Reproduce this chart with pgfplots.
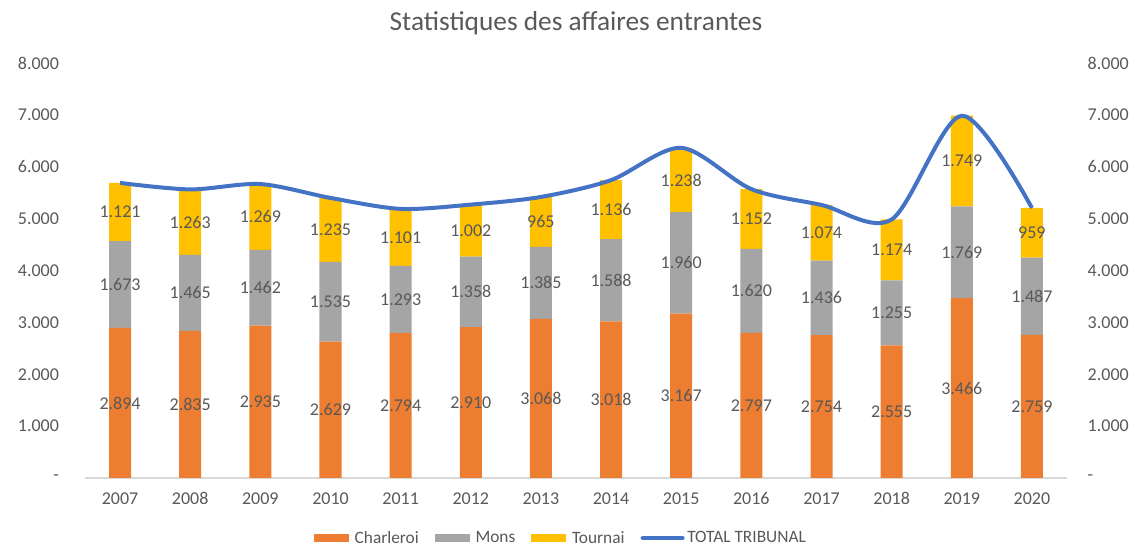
\documentclass[border=0pt]{standalone}
\usepackage{pgfplots}
\pgfplotsset{compat=1.18}
\usepackage{fontspec}
\setmainfont{Carlito}

\definecolor{charleroi}{HTML}{ED7D31}
\definecolor{mons}{HTML}{A5A5A5}
\definecolor{tournai}{HTML}{FFC000}
\definecolor{total}{HTML}{4472C4}
\definecolor{txt}{HTML}{595959}
\definecolor{axisgray}{HTML}{D9D9D9}

\pgfplotsset{
  common/.style={
    width=736.5pt, height=311.25pt, scale only axis,
    at={(0,0)}, anchor=south west,
    xmin=2006.5, xmax=2020.5,
    ymin=0, ymax=8000,
    xtick={2007,2008,2009,2010,2011,2012,2013,2014,2015,2016,2017,2018,2019,2020},
    xticklabels={2007,2008,2009,2010,2011,2012,2013,2014,2015,2016,2017,2018,2019,2020},
    ytick={0,1000,2000,3000,4000,5000,6000,7000,8000},
    yticklabels={-,1.000,2.000,3.000,4.000,5.000,6.000,7.000,8.000},
    major tick length=0pt,
    tick label style={font=\fontsize{13.5}{16}\selectfont, text=txt},
  },
}

\begin{document}
\begin{tikzpicture}
\useasboundingbox (-63.75pt,-52.5pt) rectangle (786pt,358.5pt);
\begin{axis}[common,
  ybar stacked, bar width=16.5pt,
  axis x line*=bottom, axis y line*=left,
  x axis line style={axisgray, line width=1pt},
  y axis line style={draw=none},
  yticklabel style={xshift=-16pt},
  xticklabel style={yshift=-7.5pt},
  title={Statistiques des affaires entrantes},
  title style={at={(0.5,1.077)}, anchor=center, font=\fontsize{20.5}{24}\selectfont, text=txt},
  nodes near coords={\pgfmathprintnumber[1000 sep={.},assume math mode=true]{\pgfplotspointmeta}},
  point meta=rawy,
  every node near coord/.append style={font=\fontsize{13.5}{16}\selectfont, text=txt, anchor=center},
  legend style={at={(0.485,-0.145)}, anchor=center, draw=none, legend columns=-1,
    font=\fontsize{13}{15}\selectfont, text=txt,
    /tikz/every even column/.append style={column sep=10pt}},
  legend image code/.code={\fill[#1] (0pt,-3pt) rectangle (26pt,3pt); \path (28.5pt,0pt);},
]
% Charleroi
\addplot[fill=charleroi, draw=none] coordinates {
  (2007,2894) (2008,2835) (2009,2935) (2010,2629) (2011,2794) (2012,2910) (2013,3068)
  (2014,3018) (2015,3167) (2016,2797) (2017,2754) (2018,2555) (2019,3466) (2020,2759)};
\addlegendentry{Charleroi}
% Mons
\addplot[fill=mons, draw=none] coordinates {
  (2007,1673) (2008,1465) (2009,1462) (2010,1535) (2011,1293) (2012,1358) (2013,1385)
  (2014,1588) (2015,1960) (2016,1620) (2017,1436) (2018,1255) (2019,1769) (2020,1487)};
\addlegendentry{Mons}
% Tournai
\addplot[fill=tournai, draw=none] coordinates {
  (2007,1121) (2008,1263) (2009,1269) (2010,1235) (2011,1101) (2012,1002) (2013,965)
  (2014,1136) (2015,1238) (2016,1152) (2017,1074) (2018,1174) (2019,1749) (2020,959)};
\addlegendentry{Tournai}
\addlegendimage{legend image code/.code={\draw[total, line width=3pt, line cap=round] (0pt,0pt) -- (30pt,0pt);}}
\addlegendentry{TOTAL TRIBUNAL}
\end{axis}

\begin{axis}[common,
  axis y line*=right, hide x axis,
  y axis line style={draw=none},
  yticklabel style={xshift=12pt},
]
\addplot[total, line width=3pt, smooth, mark=none] coordinates {
  (2007,5688) (2008,5563) (2009,5666) (2010,5399) (2011,5188) (2012,5270) (2013,5418)
  (2014,5742) (2015,6365) (2016,5569) (2017,5264) (2018,4984) (2019,6984) (2020,5205)};
\end{axis}
\end{tikzpicture}
\end{document}
